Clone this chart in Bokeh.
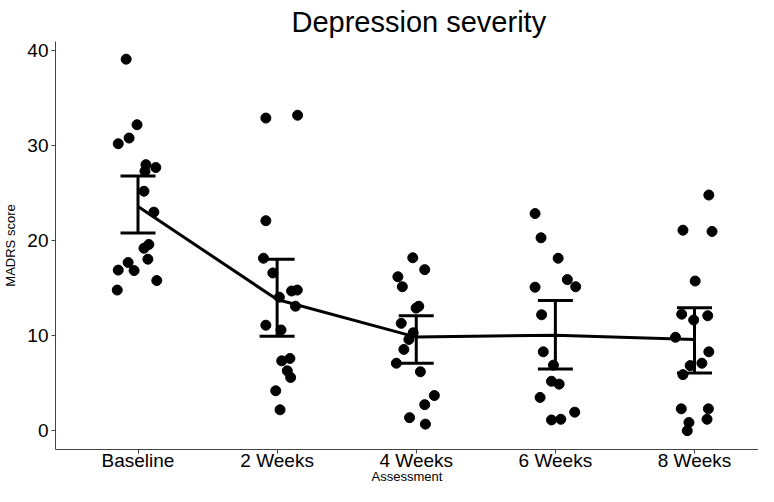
from bokeh.plotting import figure
from bokeh.models import FixedTicker, Range1d, ColumnDataSource, Whisker, TeeHead
from bokeh.embed import file_html
from bokeh.resources import INLINE

categories = ["Baseline", "2 Weeks", "4 Weeks", "6 Weeks", "8 Weeks"]

# individual MADRS scores per assessment
scores_baseline = [39.1, 32.2, 30.8, 30.2, 28.0, 27.7, 27.3, 25.2, 23.0, 19.6, 19.2,
                   18.05, 17.7, 16.9, 16.85, 15.8, 14.8]
scores_2w = [32.9, 33.2, 22.1, 18.15, 16.6, 14.7, 14.8, 14.05, 13.1, 11.1, 10.6,
             7.6, 7.35, 6.3, 5.6, 4.2, 2.2]
scores_4w = [18.2, 16.95, 16.2, 15.15, 13.1, 12.9, 11.3, 10.3, 9.6, 8.55, 7.1,
             6.2, 3.7, 2.74, 1.37, 0.69]
scores_6w = [22.85, 20.3, 18.15, 15.9, 15.1, 15.15, 12.2, 8.3, 6.9, 5.2, 4.9,
             3.5, 1.95, 1.13, 1.2]
scores_8w = [24.8, 21.1, 20.97, 15.75, 12.26, 12.1, 11.65, 9.83, 8.3, 7.1, 6.85,
             5.9, 2.3, 2.3, 1.2, 0.86, 0.0]

# horizontal jitter of each point (category units)
jitter_baseline = [-0.085, -0.007, -0.064, -0.142, 0.057, 0.128, 0.050, 0.043, 0.114,
                   0.078, 0.043, 0.071, -0.071, -0.142, -0.028, 0.135, -0.149]
jitter_2w = [-0.081, 0.147, -0.081, -0.098, -0.031, 0.104, 0.145, 0.016, 0.132,
             -0.081, 0.028, 0.092, 0.033, 0.073, 0.097, -0.010, 0.021]
jitter_4w = [-0.025, 0.061, -0.132, -0.100, 0.018, -0.001, -0.108, -0.022, -0.053,
             -0.089, -0.143, 0.030, 0.130, 0.061, -0.048, 0.066]
jitter_6w = [-0.146, -0.103, 0.020, 0.086, -0.146, 0.146, -0.099, -0.087, -0.014,
             -0.028, 0.027, -0.110, 0.139, -0.028, 0.039]
jitter_8w = [0.103, -0.083, 0.126, 0.005, -0.092, 0.095, -0.006, -0.137, 0.103,
             0.053, -0.031, -0.083, -0.095, 0.100, 0.090, -0.040, -0.052]

# group means and confidence interval limits
means = [23.6, 13.8, 9.85, 10.05, 9.6]
ci_low = [20.8, 9.93, 7.1, 6.5, 6.06]
ci_high = [26.8, 18.05, 12.1, 13.7, 12.95]

y_ticks = [0, 10, 20, 30, 40]

FONT = "Liberation Sans"

p = figure(width=758, height=486, output_backend="svg", toolbar_location=None,
           x_range=Range1d(0.407, 5.46), y_range=Range1d(-1.98, 40.96),
           min_border_left=49, min_border_top=34, min_border_bottom=0, min_border_right=0,
           title="Depression severity")
p.background_fill_color = "white"
p.border_fill_color = "white"
p.outline_line_color = None
p.grid.visible = False

p.title.text_font = FONT
p.title.text_font_size = "29px"
p.title.text_font_style = "normal"
p.title.align = "left"
p.title.offset = 236
p.title.standoff = 7
p.title.text_color = "black"

positions = [i + 1 for i in range(len(categories))]
all_scores = [scores_baseline, scores_2w, scores_4w, scores_6w, scores_8w]
all_jitter = [jitter_baseline, jitter_2w, jitter_4w, jitter_6w, jitter_8w]
xs, ys = [], []
for pos, sc, jt in zip(positions, all_scores, all_jitter):
    for v, j in zip(sc, jt):
        xs.append(pos + j)
        ys.append(v)

p.scatter(x=xs, y=ys, size=10, fill_color="black", line_color="black")

p.line(x=positions, y=means, line_width=3, line_color="black")

src = ColumnDataSource(dict(x=positions, lo=ci_low, hi=ci_high))
w = Whisker(base="x", lower="lo", upper="hi", source=src, line_width=3, line_color="black",
            upper_head=TeeHead(size=35, line_width=3, line_color="black"),
            lower_head=TeeHead(size=35, line_width=3, line_color="black"))
p.add_layout(w)

p.xaxis.ticker = FixedTicker(ticks=positions)
p.xaxis.major_label_overrides = {pos: c for pos, c in zip(positions, categories)}
p.yaxis.ticker = FixedTicker(ticks=y_ticks)
p.xaxis.minor_tick_line_color = None
p.yaxis.minor_tick_line_color = None

for ax in (p.xaxis, p.yaxis):
    ax.axis_line_color = "#444444"
    ax.axis_line_width = 1
    ax.major_tick_line_color = "#444444"
    ax.major_tick_in = 0
    ax.major_tick_out = 4
    ax.major_label_text_font = FONT
    ax.major_label_text_font_size = "19px"
    ax.major_label_text_color = "black"
    ax.axis_label_text_font = FONT
    ax.axis_label_text_font_size = "13px"
    ax.axis_label_text_font_style = "normal"
    ax.axis_label_text_color = "black"

p.xaxis.axis_label = "Assessment"
p.yaxis.axis_label = "MADRS score"
p.xaxis.major_label_standoff = -4
p.xaxis.axis_label_standoff = -5
p.yaxis.major_label_standoff = 3
p.yaxis.axis_label_standoff = 6

open("out.html", "w").write(file_html(p, INLINE))
